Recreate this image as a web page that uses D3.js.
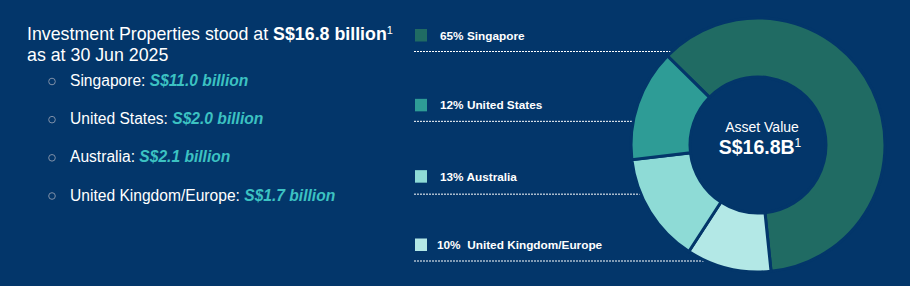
<!DOCTYPE html>
<html>
<head>
<meta charset="utf-8">
<script src="https://cdn.jsdelivr.net/npm/d3@7"></script>
<style>
  html, body { margin: 0; padding: 0; background: #03366a; }
  svg { display: block; font-family: "Liberation Sans", Arial, sans-serif; }
</style>
</head>
<body>
<div id="chart"></div>
<script>
// 1: DATA
const regions = ["Singapore", "United States", "Australia", "United Kingdom/Europe"];
const amounts = ["S$11.0 billion", "S$2.0 billion", "S$2.1 billion", "S$1.7 billion"];
const legendPct = ["65%", "12%", "13%", "10% "];
// slice shares as drawn in the donut
const sliceShares = [61, 14.2, 14, 10.8];
const sliceColors = ["#206b63", "#2e9c96", "#8edbd6", "#b3e8e6"];
const drawOrder = [0, 3, 2, 1]; // clockwise from the top-left
const totalLabel = "S$16.8B";

const width = 910, height = 286;
const bg = "#03366a";

const svg = d3.select("#chart").append("svg")
    .attr("width", width)
    .attr("height", height);

svg.append("rect").attr("width", width).attr("height", height).attr("fill", bg);

// 2: HEADLINE
const head = svg.append("text")
    .attr("x", 27).attr("y", 40)
    .attr("fill", "#ffffff")
    .style("font-size", "17.8px");
head.append("tspan").text("Investment Properties stood at ");
head.append("tspan").style("font-weight", "bold").text("S$16.8 billion");
head.append("tspan").attr("dy", -6).style("font-size", "11px").text("1");

svg.append("text")
    .attr("x", 27).attr("y", 61)
    .attr("fill", "#ffffff")
    .style("font-size", "17.8px")
    .text("as at 30 Jun 2025");

// 3: BULLET LIST
const listY = d3.scaleLinear().domain([0, 3]).range([86, 200.5]);

const items = svg.append("g").selectAll("g")
    .data(regions)
    .join("g")
    .attr("transform", (d, i) => `translate(0,${listY(i)})`);

items.append("circle")
    .attr("cx", 52).attr("cy", -4.5).attr("r", 3.3)
    .attr("fill", "none")
    .attr("stroke", "#7f90a8")
    .attr("stroke-width", 1);

const itemText = items.append("text")
    .attr("x", 70)
    .attr("fill", "#ffffff")
    .style("font-size", "15.6px");
itemText.append("tspan").text(d => d + ": ");
itemText.append("tspan")
    .attr("fill", "#3cc2c2")
    .style("font-weight", "bold")
    .style("font-style", "italic")
    .text((d, i) => amounts[i]);

// 4: DONUT
const cx = 758, cy = 145;
const outerR = 127, innerR = 68;

const legendY = d3.scaleLinear().domain([0, 3]).range([35.5, 245]);
const lineY = i => legendY(i) + (i === 2 ? 19 : 16);

// dotted leader lines, stopping at the donut's outer edge
svg.append("g").selectAll("line")
    .data(regions)
    .join("line")
    .attr("x1", 414)
    .attr("x2", (d, i) => {
        const dy = lineY(i) - cy;
        return cx - Math.sqrt(Math.max(0, outerR * outerR - dy * dy)) + 2;
    })
    .attr("y1", (d, i) => lineY(i))
    .attr("y2", (d, i) => lineY(i))
    .attr("stroke", "#ffffff")
    .attr("stroke-width", 1)
    .attr("stroke-dasharray", "2,1");

const pie = d3.pie()
    .sort(null)
    .value(d => d.share)
    .startAngle(-45.5 * Math.PI / 180)
    .endAngle(-45.5 * Math.PI / 180 + 2 * Math.PI);

const pieData = pie(drawOrder.map(i => ({ share: sliceShares[i], color: sliceColors[i] })));

const arc = d3.arc().innerRadius(innerR).outerRadius(outerR);

const donut = svg.append("g")
    .attr("transform", `translate(${cx},${cy})`);

donut.append("circle").attr("r", innerR).attr("fill", bg);

donut.selectAll("path")
    .data(pieData)
    .join("path")
    .attr("d", arc)
    .attr("fill", d => d.data.color)
    .attr("stroke", bg)
    .attr("stroke-width", 3);

svg.append("text")
    .attr("x", 762).attr("y", 132)
    .attr("text-anchor", "middle")
    .attr("fill", "#ffffff")
    .style("font-size", "14px")
    .text("Asset Value");

const big = svg.append("text")
    .attr("x", 760).attr("y", 154)
    .attr("text-anchor", "middle")
    .attr("fill", "#ffffff");
big.append("tspan").style("font-size", "19.5px").style("font-weight", "bold").text(totalLabel);
big.append("tspan").attr("dy", -7).style("font-size", "12px").text("1");

// 5: LEGEND
const legend = svg.append("g").selectAll("g")
    .data(regions)
    .join("g")
    .attr("transform", (d, i) => `translate(0,${legendY(i) + (i === 2 ? 1.5 : 0)})`);

legend.append("rect")
    .attr("x", 415).attr("y", -6.5)
    .attr("width", 12).attr("height", 12.5)
    .attr("fill", (d, i) => sliceColors[i]);

legend.append("text")
    .attr("x", (d, i) => i === 3 ? 437 : 440)
    .attr("y", 4)
    .attr("fill", "#ffffff")
    .style("font-size", "11.8px")
    .style("font-weight", "bold")
    .style("white-space", "pre")
    .text((d, i) => legendPct[i] + " " + d);
</script>
</body>
</html>
